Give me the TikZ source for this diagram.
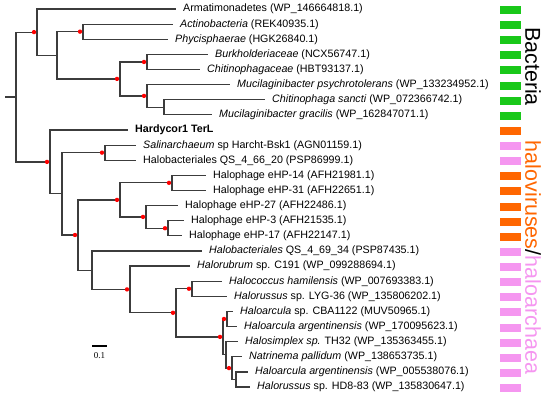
\documentclass[tikz,border=0pt]{standalone}
\usepackage{fontspec}
\setmainfont{Liberation Sans}
\newfontfamily\scalefont{Liberation Serif}
\usetikzlibrary{positioning}
\definecolor{bargreen}{RGB}{25,200,25}
\definecolor{barorange}{RGB}{255,102,0}
\definecolor{barpink}{RGB}{245,150,240}
\definecolor{branchgray}{RGB}{60,60,60}

\begin{document}
\begin{tikzpicture}[x=1pt, y=-1pt,
    leaf/.style={anchor=west, inner xsep=7pt, inner ysep=0pt, text height=1.5ex, text depth=.4ex, font=\fontsize{10.7}{12}\selectfont},
    branch/.style={draw=branchgray, line width=1.2pt},
    support/.style={fill=red},
    clade/.style={rotate=-90, inner sep=0pt, font=\fontsize{21.5}{24}\selectfont}
]
\useasboundingbox (0,0) rectangle (550,399);
% leaves
\node[leaf] (arma) at (176,9.0) {Armatimonadetes (WP\_146664818.1)};
\node[leaf] (actino) at (173,24.1) {\textit{Actinobacteria} (REK40935.1)};
\node[leaf] (phyci) at (168,39.2) {\textit{Phycisphaerae} (HGK26840.1)};
\node[leaf] (burk) at (208,54.4) {\textit{Burkholderiaceae} (NCX56747.1)};
\node[leaf] (chitf) at (200,69.5) {\textit{Chitinophagaceae} (HBT93137.1)};
\node[leaf] (mpsy) at (230,84.6) {\textit{Mucilaginibacter psychrotolerans} (WP\_133234952.1)};
\node[leaf] (csan) at (265,99.7) {\textit{Chitinophaga sancti} (WP\_072366742.1)};
\node[leaf] (mgra) at (212,114.8) {\textit{Mucilaginibacter gracilis} (WP\_162847071.1)};
\node[leaf] (hardy) at (128,130.0) {\textbf{Hardycor1 TerL}};
\node[leaf] (salin) at (136,145.1) {\textit{Salinarchaeum} sp Harcht-Bsk1 (AGN01159.1)};
\node[leaf] (qs66) at (136,160.2) {Halobacteriales QS\_4\_66\_20 (PSP86999.1)};
\node[leaf] (hp14) at (206,175.3) {Halophage eHP-14 (AFH21981.1)};
\node[leaf] (hp31) at (206,190.4) {Halophage eHP-31 (AFH22651.1)};
\node[leaf] (hp27) at (178,205.6) {Halophage eHP-27 (AFH22486.1)};
\node[leaf] (hp3) at (184,220.7) {Halophage eHP-3 (AFH21535.1)};
\node[leaf] (hp17) at (182,235.8) {Halophage eHP-17 (AFH22147.1)};
\node[leaf] (qs69) at (202,250.9) {\textit{Halobacteriales} QS\_4\_69\_34 (PSP87435.1)};
\node[leaf] (hrub) at (190,266.0) {\textit{Halorubrum} sp. C191 (WP\_099288694.1)};
\node[leaf] (hcoc) at (222,281.2) {\textit{Halococcus hamilensis} (WP\_007693383.1)};
\node[leaf] (hlyg) at (227,296.3) {\textit{Halorussus} sp. LYG-36 (WP\_135806202.1)};
\node[leaf] (hcba) at (233,311.4) {\textit{Haloarcula} sp. CBA1122 (MUV50965.1)};
\node[leaf] (harg1) at (237,326.5) {\textit{Haloarcula argentinensis} (WP\_170095623.1)};
\node[leaf] (hsim) at (238,341.6) {\textit{Halosimplex sp.} TH32 (WP\_135363455.1)};
\node[leaf] (natr) at (242,356.8) {\textit{Natrinema pallidum} (WP\_138653735.1)};
\node[leaf] (harg2) at (248,371.9) {\textit{Haloarcula argentinensis} (WP\_005538076.1)};
\node[leaf] (hhd8) at (250,387.0) {\textit{Halorussus} sp. HD8-83 (WP\_135830647.1)};
% inner nodes
\coordinate (stub) at (5,97.0);
\coordinate (root) at (16,97.0);
\coordinate (bac0) at (37,32.1);
\coordinate (bac1) at (57,55.3);
\coordinate (bac2) at (83,31.65);
\coordinate (bac3) at (120,78.9);
\coordinate (bac4) at (147,61.95);
\coordinate (bac5) at (147,95.9);
\coordinate (bac6) at (164,107.25);
\coordinate (hal0) at (50,161.9);
\coordinate (hal1) at (62,193.8);
\coordinate (hal2) at (105,152.65);
\coordinate (hal3) at (78,235.0);
\coordinate (hal4) at (120,199.9);
\coordinate (hal5) at (172,182.85);
\coordinate (hal6) at (146,216.9);
\coordinate (hal7) at (168,228.25);
\coordinate (hal8) at (92,270.15);
\coordinate (hal9) at (130,289.4);
\coordinate (hal10) at (176,312.8);
\coordinate (hal11) at (192,288.75);
\coordinate (hal12) at (223,336.9);
\coordinate (hal13) at (227,318.95);
\coordinate (hal14) at (226,354.85);
\coordinate (hal15) at (232,368.1);
\coordinate (hal16) at (236,379.45);
% branches
\draw[branch] (stub) -- (root);
\draw[branch] (root) |- (bac0) (root) |- (hal0);
\draw[branch] (bac0) |- (arma) (bac0) |- (bac1);
\draw[branch] (bac1) |- (bac2) (bac1) |- (bac3);
\draw[branch] (bac2) |- (actino) (bac2) |- (phyci);
\draw[branch] (bac3) |- (bac4) (bac3) |- (bac5);
\draw[branch] (bac4) |- (burk) (bac4) |- (chitf);
\draw[branch] (bac5) |- (mpsy) (bac5) |- (bac6);
\draw[branch] (bac6) |- (csan) (bac6) |- (mgra);
\draw[branch] (hal0) |- (hardy) (hal0) |- (hal1);
\draw[branch] (hal1) |- (hal2) (hal1) |- (hal3);
\draw[branch] (hal2) |- (salin) (hal2) |- (qs66);
\draw[branch] (hal3) |- (hal4) (hal3) |- (hal8);
\draw[branch] (hal4) |- (hal5) (hal4) |- (hal6);
\draw[branch] (hal5) |- (hp14) (hal5) |- (hp31);
\draw[branch] (hal6) |- (hp27) (hal6) |- (hal7);
\draw[branch] (hal7) |- (hp3) (hal7) |- (hp17);
\draw[branch] (hal8) |- (qs69) (hal8) |- (hal9);
\draw[branch] (hal9) |- (hrub) (hal9) |- (hal10);
\draw[branch] (hal10) |- (hal11) (hal10) |- (hal12);
\draw[branch] (hal11) |- (hcoc) (hal11) |- (hlyg);
\draw[branch] (hal12) |- (hal13) (hal12) |- (hal14);
\draw[branch] (hal13) |- (hcba) (hal13) |- (harg1);
\draw[branch] (hal14) |- (hsim) (hal14) |- (hal15);
\draw[branch] (hal15) |- (natr) (hal15) |- (hal16);
\draw[branch] (hal16) |- (harg2) (hal16) |- (hhd8);
% supported nodes
\foreach \n in {bac0,bac2,bac3,bac4,bac5,hal0,hal2,hal3,hal4,hal5,hal6,hal7,hal9,hal10,hal11,hal12,hal13,hal15}
    \fill[support] ([xshift=-3pt]\n) circle (2.2pt);
% scale bar
\coordinate (sb0) at (92,346);
\coordinate (sb1) at (107,346);
\draw[line width=1.6pt] (sb0) -- (sb1);
\node[font=\scalefont\fontsize{9}{10}\selectfont] (sblab) at (99.5,356) {0.1};
% colour strip
\foreach \c [count=\i from 0] in {bargreen,bargreen,bargreen,bargreen,bargreen,bargreen,bargreen,bargreen,barorange,barpink,barpink,barorange,barorange,barorange,barorange,barorange,barpink,barpink,barpink,barpink,barpink,barpink,barpink,barpink,barpink,barpink}
    \fill[\c] (500,{9+15.12*\i-3}) rectangle ++(21,8);
\node[clade] (bact) at (533,66.5) {Bacteria};
\node[clade] (halo) at (533,257.5) {\textcolor{barorange}{haloviruses}/\textcolor{barpink}{haloarchaea}};
\end{tikzpicture}
\end{document}
